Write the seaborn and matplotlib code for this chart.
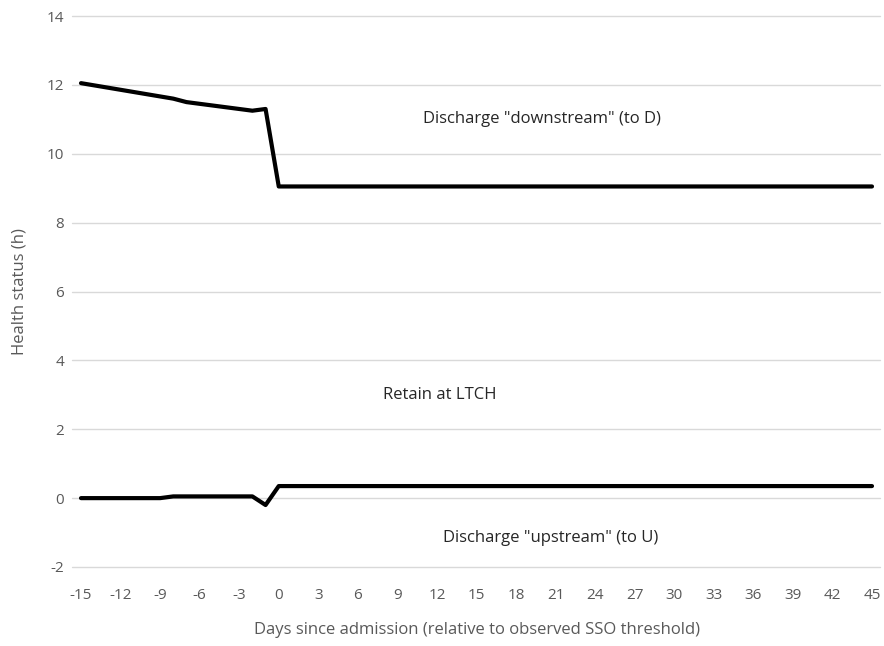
import numpy as np
import pandas as pd
import matplotlib
matplotlib.use('Agg')
import matplotlib.pyplot as plt
import seaborn as sns

# Data
upper_known = {-15: 12.05, -8: 11.6, -7: 11.5, -2: 11.25, -1: 11.3, 0: 9.05, 45: 9.05}
lower_known = {-15: 0.0, -9: 0.0, -8: 0.05, -2: 0.05, -1: -0.2, 0: 0.35, 45: 0.35}
upper_x = list(upper_known.keys())
upper_y = list(upper_known.values())
lower_x = list(lower_known.keys())
lower_y = list(lower_known.values())

sns.set_style('white')
plt.rcParams['font.family'] = ['Open Sans', 'DejaVu Sans']
plt.rcParams['axes.unicode_minus'] = False

fig = plt.figure(figsize=(8.84, 6.46), dpi=100)
ax = fig.add_axes([81/884, 1 - 567/646, (872-81)/884, (567-16)/646])

df_up = pd.DataFrame({'day': upper_x, 'h': upper_y})
df_lo = pd.DataFrame({'day': lower_x, 'h': lower_y})
sns.lineplot(data=df_up, x='day', y='h', ax=ax, color='black', linewidth=3, zorder=3, clip_on=False)
sns.lineplot(data=df_lo, x='day', y='h', ax=ax, color='black', linewidth=3, zorder=3, clip_on=False)

ax.set_xlim(-15, 45)
ax.set_ylim(-2, 14)
ax.set_xticks(range(-15, 46, 3))
ax.set_yticks(range(-2, 15, 2))
for yv in range(-2, 15, 2):
    ax.axhline(yv, xmin=-0.012, xmax=1.01, color='#d9d9d9', linewidth=1, zorder=0, clip_on=False)
for s in ax.spines.values():
    s.set_visible(False)
ax.tick_params(axis='both', colors='#595959', labelsize=11, length=0)
ax.tick_params(axis='y', pad=12)
ax.tick_params(axis='x', pad=15)
ax.set_xlabel('Days since admission (relative to observed SSO threshold)', color='#595959', fontsize=12, labelpad=14)
ax.set_ylabel('Health status (h)', color='#595959', fontsize=12, labelpad=14)

ax.text(20.0, 11.0, 'Discharge "downstream" (to D)', fontsize=12, ha='center', va='center')
ax.text(12.2, 3.0, 'Retain at LTCH', fontsize=12, ha='center', va='center')
ax.text(20.6, -1.15, 'Discharge "upstream" (to U)', fontsize=12, ha='center', va='center')

fig.savefig('out.png', dpi=100)
